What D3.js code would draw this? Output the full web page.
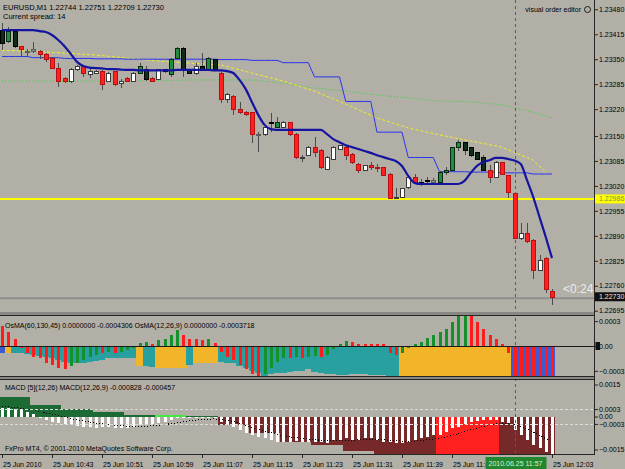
<!DOCTYPE html>
<html>
<head>
<meta charset="utf-8">
<script src="https://cdn.jsdelivr.net/npm/d3@7"></script>
<style>
body { margin:0; background:#b2afa6; }
svg { display:block; font-family:"Liberation Sans", Arial, sans-serif; }
</style>
</head>
<body>
<svg id="chart" width="625" height="469"></svg>
<script>
// EURUSD M1, 25 Jun 2010 10:35 .. 12:03 (89 bars)
// candles: open, high, low, close, colour code
var candles = [
 [1.23426,1.23444,1.23374,1.23392,'k'],[1.23395,1.23434,1.23392,1.23423,'g'],[1.23423,1.23426,1.23379,1.23382,'k'],
 [1.23382,1.23384,1.23356,1.23374,'r'],[1.23371,1.23377,1.23356,1.23371,'s'],[1.23371,1.23395,1.23366,1.23374,'s'],
 [1.23371,1.23374,1.23351,1.23361,'r'],[1.23361,1.23366,1.23343,1.23348,'r'],[1.23353,1.23356,1.23324,1.23327,'r'],
 [1.23327,1.23340,1.23278,1.23291,'r'],[1.23301,1.23304,1.23288,1.23291,'r'],[1.23291,1.23327,1.23288,1.23322,'w'],
 [1.23322,1.23335,1.23319,1.23330,'w'],[1.23330,1.23335,1.23304,1.23314,'r'],[1.23311,1.23327,1.23301,1.23317,'w'],
 [1.23314,1.23322,1.23311,1.23319,'w'],[1.23317,1.23322,1.23270,1.23283,'r'],[1.23293,1.23317,1.23291,1.23314,'w'],
 [1.23317,1.23319,1.23280,1.23283,'r'],[1.23288,1.23298,1.23275,1.23293,'w'],[1.23301,1.23304,1.23291,1.23293,'r'],
 [1.23293,1.23317,1.23291,1.23314,'w'],[1.23314,1.23340,1.23311,1.23330,'g'],[1.23322,1.23332,1.23293,1.23296,'k'],
 [1.23301,1.23304,1.23291,1.23293,'r'],[1.23298,1.23324,1.23296,1.23322,'w'],[1.23322,1.23324,1.23314,1.23317,'k'],
 [1.23309,1.23353,1.23304,1.23348,'g'],[1.23353,1.23382,1.23348,1.23379,'g'],[1.23379,1.23382,1.23304,1.23322,'k'],
 [1.23322,1.23324,1.23311,1.23314,'k'],[1.23314,1.23340,1.23309,1.23330,'w'],[1.23330,1.23366,1.23319,1.23322,'k'],
 [1.23322,1.23356,1.23319,1.23353,'g'],[1.23348,1.23351,1.23319,1.23322,'k'],[1.23314,1.23317,1.23236,1.23244,'r'],
 [1.23246,1.23262,1.23236,1.23257,'w'],[1.23252,1.23257,1.23205,1.23218,'r'],[1.23218,1.23238,1.23207,1.23210,'r'],
 [1.23212,1.23215,1.23202,1.23205,'r'],[1.23210,1.23212,1.23132,1.23153,'r'],[1.23153,1.23160,1.23108,1.23153,'s'],
 [1.23153,1.23176,1.23150,1.23173,'w'],[1.23184,1.23210,1.23160,1.23184,'k'],[1.23173,1.23199,1.23171,1.23184,'g'],
 [1.23173,1.23189,1.23171,1.23186,'w'],[1.23184,1.23186,1.23150,1.23153,'r'],[1.23155,1.23158,1.23090,1.23093,'r'],
 [1.23093,1.23100,1.23082,1.23095,'w'],[1.23100,1.23124,1.23098,1.23119,'w'],[1.23119,1.23147,1.23095,1.23108,'r'],
 [1.23113,1.23116,1.23064,1.23067,'r'],[1.23064,1.23098,1.23061,1.23095,'w'],[1.23090,1.23124,1.23087,1.23119,'w'],
 [1.23116,1.23126,1.23113,1.23124,'w'],[1.23119,1.23124,1.23087,1.23098,'r'],[1.23103,1.23106,1.23077,1.23080,'r'],
 [1.23077,1.23080,1.23054,1.23061,'r'],[1.23061,1.23074,1.23059,1.23072,'w'],[1.23072,1.23082,1.23061,1.23067,'r'],
 [1.23068,1.23077,1.23056,1.23066,'r'],[1.23067,1.23069,1.23046,1.23048,'r'],[1.23051,1.23054,1.22986,1.22988,'r'],
 [1.22990,1.23015,1.22986,1.22991,'w'],[1.22991,1.23015,1.22988,1.23012,'w'],[1.23015,1.23043,1.23012,1.23041,'w'],
 [1.23043,1.23051,1.23028,1.23030,'r'],[1.23030,1.23038,1.23020,1.23030,'k'],[1.23033,1.23043,1.23028,1.23033,'k'],
 [1.23028,1.23041,1.23025,1.23035,'s'],[1.23030,1.23059,1.23028,1.23054,'g'],[1.23054,1.23069,1.23048,1.23061,'g'],
 [1.23061,1.23121,1.23059,1.23119,'g'],[1.23119,1.23140,1.23111,1.23134,'g'],[1.23132,1.23134,1.23100,1.23113,'k'],
 [1.23119,1.23121,1.23095,1.23098,'k'],[1.23106,1.23108,1.23087,1.23090,'k'],[1.23093,1.23100,1.23059,1.23061,'k'],
 [1.23061,1.23074,1.23028,1.23041,'r'],[1.23043,1.23085,1.23041,1.23080,'w'],[1.23080,1.23082,1.23048,1.23051,'r'],
 [1.23046,1.23048,1.22988,1.23004,'r'],[1.23001,1.23004,1.22882,1.22884,'r'],[1.22884,1.22923,1.22879,1.22895,'w'],
 [1.22897,1.22923,1.22871,1.22874,'r'],[1.22879,1.22882,1.22777,1.22801,'r'],[1.22801,1.22840,1.22798,1.22827,'w'],
 [1.22832,1.22835,1.22741,1.22749,'r'],[1.22744,1.22751,1.22709,1.22730,'r']
];

// thick navy MA, one value per bar
var navyMA = [
 1.23426,1.23426,1.23426,1.23426,1.23426,1.23426,1.23423,1.23421,1.23413,1.23400,
 1.23384,1.23364,1.23343,1.23332,1.23328,1.23327,1.23326,1.23324,1.23324,1.23323,
 1.23322,1.23322,1.23321,1.23321,1.23321,1.23321,1.23321,1.23321,1.23322,1.23322,
 1.23322,1.23322,1.23322,1.23322,1.23321,1.23321,1.23319,1.23314,1.23296,1.23272,
 1.23238,1.23205,1.23179,1.23168,1.23166,1.23166,1.23166,1.23166,1.23166,1.23166,
 1.23166,1.23166,1.23155,1.23142,1.23134,1.23126,1.23121,1.23116,1.23111,1.23106,
 1.23100,1.23095,1.23090,1.23085,1.23072,1.23046,1.23028,1.23025,1.23025,1.23025,
 1.23025,1.23025,1.23025,1.23025,1.23033,1.23054,1.23072,1.23082,1.23087,1.23093,
 1.23093,1.23090,1.23086,1.23077,1.23035,1.22991,1.22939,1.22887,1.22832
];

// thin blue M5 line, one value per 5-minute block
var blueM5 = [1.23357,1.23354,1.23352,1.23351,1.23350,1.23350,1.23350,1.23349,1.23347,
              1.23341,1.23304,1.23240,1.23160,1.23094,1.23057,1.23056,1.23054,1.23051];

// yellow dashed and green dotted MAs (read at these bars)
var yellowIdx = [0,5,10,15,20,25,30,35,40,45,50,55,60,65,70,75,80,85,87];
var yellowMA  = [1.23373,1.23371,1.23366,1.23361,1.23353,1.23345,1.23340,1.23335,1.23314,1.23293,
                 1.23267,1.23233,1.23197,1.23171,1.23153,1.23137,1.23121,1.23087,1.23056];
var greenIdx  = [0,5,10,15,20,25,30,35,40,45,50,55,60,65,70,75,80,85,88];
var greenMA   = [1.23293,1.23293,1.23293,1.23293,1.23293,1.23294,1.23296,1.23296,1.23296,1.23288,
                 1.23275,1.23267,1.23257,1.23249,1.23241,1.23239,1.23231,1.23212,1.23197];

var yellowLevel = 1.22986;
var lastClose = 1.22730;
var priceTicks = [1.23480,1.23415,1.23350,1.23285,1.23220,1.23150,1.23085,1.23020,1.22955,1.22890,1.22825,1.22760,1.22695];

// OsMA(60,130,45) - wide bars, colour: t teal, o orange, b blue
var osmaSlow = [
 -0.00008,-0.00008,-0.00008,-0.00009,-0.00010,-0.00011,-0.00012,-0.00013,-0.00014,-0.00017,
 -0.00019,-0.00021,-0.00021,-0.00020,-0.00019,-0.00018,-0.00017,-0.00015,-0.00015,-0.00015,
 -0.00015,-0.00015,-0.00024,-0.00024,-0.00025,-0.00026,-0.00026,-0.00026,-0.00026,-0.00026,
 -0.00023,-0.00021,-0.00021,-0.00021,-0.00021,-0.00019,-0.00020,-0.00021,-0.00024,-0.00026,
 -0.00030,-0.00033,-0.00036,-0.00034,-0.00033,-0.00032,-0.00031,-0.00030,-0.00030,-0.00028,
 -0.00031,-0.00033,-0.00034,-0.00034,-0.00035,-0.00035,-0.00034,-0.00034,-0.00034,-0.00035,
 -0.00035,-0.00035,-0.00036,-0.00036,-0.00037,-0.00038,-0.00039,-0.00040,-0.00040,-0.00040,
 -0.00040,-0.00040,-0.00040,-0.00040,-0.00040,-0.00040,-0.00040,-0.00040,-0.00040,-0.00040,
 -0.00040,-0.00040,-0.00041,-0.00042,-0.00042,-0.00043,-0.00043,-0.00043,-0.00043
];
var osmaSlowCol = "bo" + "tttttttttttttttttttt" + "o" + "tt" + "ooooo" + "t" + "oooo" +
                  "ttttttttttttttttttttttttttttt" + "oooooooooooooooooo" + "bbbbbbb";

// OsMA(12,26,9) - thin bars, r falling, g rising
var osmaFast = [
  0.00024, 0.00017, 0.00008,-0.00002,-0.00008,-0.00013,-0.00015,-0.00020,-0.00023,-0.00026,
 -0.00028,-0.00024,-0.00020,-0.00017,-0.00013,-0.00011,-0.00008,-0.00007,-0.00008,-0.00007,
 -0.00005,-0.00002, 0.00004, 0.00005, 0.00003, 0.00007, 0.00009, 0.00013, 0.00019, 0.00013,
  0.00009, 0.00008, 0.00007, 0.00008, 0.00004,-0.00007,-0.00013,-0.00017,-0.00023,-0.00028,
 -0.00034,-0.00038,-0.00034,-0.00026,-0.00019,-0.00014,-0.00014,-0.00013,-0.00014,-0.00013,
 -0.00012,-0.00013,-0.00011,-0.00004, 0.00003, 0.00006, 0.00005, 0.00003, 0.00003, 0.00003,
  0.00003, 0.00002,-0.00008,-0.00011,-0.00009,-0.00003, 0.00002, 0.00005, 0.00010, 0.00013,
  0.00017, 0.00021, 0.00029, 0.00036, 0.00036, 0.00036, 0.00029, 0.00021, 0.00013, 0.00009,
  0.00003,-0.00008,-0.00040,-0.00040,-0.00040,-0.00040,-0.00040,-0.00040,-0.00037
];
var osmaFastCol = "rrrrrrrrrrr" + "ggggg" + "r" + "g" + "r" + "ggggg" + "r" + "gggg" + "rrrr" + "g" +
                  "rrrrrrrr" + "gggg" + "r" + "g" + "r" + "gg" + "r" + "gggg" + "rrrrrrrr" +
                  "ggggggggggg" + "rrrrrrrrrrrrrr";
var osmaTicks = [0.0003, 0, -0.0003];

// MACD [5](12,26): one value per 5-minute block; g dark green, l lime, m maroon, r red
var macdM5 = [0.00079,0.00047,0.00030,0.00018,0.00008,0.00006,0.00004,-0.00034,-0.00067,
              -0.00102,-0.00117,-0.00140,-0.00160,-0.00160,-0.00160,-0.00160,-0.00160,-0.00160];
var macdM5Col = "ggggglgmmmmmmmrrmm";

// MACD(12,26,9) main (white bars) and signal (dotted)
var macdMain = [
  0.00035, 0.00033, 0.00030, 0.00025, 0.00018, 0.00010,-0.00007,-0.00014,-0.00021,-0.00026,
 -0.00030,-0.00034,-0.00037,-0.00041,-0.00044,-0.00045,-0.00041,-0.00041,-0.00045,-0.00048,
 -0.00045,-0.00041,-0.00034,-0.00032,-0.00032,-0.00028,-0.00021,-0.00014,-0.00007,-0.00007,
 -0.00007,-0.00007,-0.00006,-0.00006,-0.00007,-0.00021,-0.00034,-0.00041,-0.00055,-0.00068,
 -0.00075,-0.00082,-0.00088,-0.00095,-0.00102,-0.00102,-0.00102,-0.00099,-0.00102,-0.00102,
 -0.00104,-0.00102,-0.00109,-0.00095,-0.00095,-0.00088,-0.00095,-0.00095,-0.00088,-0.00088,
 -0.00095,-0.00102,-0.00102,-0.00109,-0.00109,-0.00102,-0.00095,-0.00088,-0.00082,-0.00075,
 -0.00075,-0.00062,-0.00048,-0.00041,-0.00032,-0.00021,-0.00018,-0.00014,-0.00014,-0.00014,
 -0.00021,-0.00028,-0.00055,-0.00075,-0.00095,-0.00115,-0.00129,-0.00143,-0.00156
];
var macdSignal = [
  0.00040, 0.00039, 0.00037, 0.00034, 0.00030, 0.00026, 0.00020, 0.00014, 0.00009, 0.00004,
 -0.00002,-0.00008,-0.00013,-0.00018,-0.00023,-0.00027,-0.00030,-0.00032,-0.00035,-0.00037,
 -0.00039,-0.00040,-0.00040,-0.00039,-0.00038,-0.00036,-0.00033,-0.00029,-0.00025,-0.00021,
 -0.00018,-0.00015,-0.00013,-0.00011,-0.00010,-0.00012,-0.00016,-0.00021,-0.00028,-0.00036,
 -0.00044,-0.00052,-0.00059,-0.00066,-0.00073,-0.00079,-0.00083,-0.00086,-0.00089,-0.00092,
 -0.00094,-0.00096,-0.00098,-0.00098,-0.00097,-0.00096,-0.00096,-0.00095,-0.00094,-0.00093,
 -0.00093,-0.00095,-0.00096,-0.00098,-0.00100,-0.00100,-0.00100,-0.00098,-0.00095,-0.00091,
 -0.00088,-0.00083,-0.00076,-0.00069,-0.00062,-0.00054,-0.00047,-0.00040,-0.00035,-0.00030,
 -0.00028,-0.00028,-0.00033,-0.00040,-0.00051,-0.00063,-0.00076,-0.00090,-0.00103
];
var macdTicks = [0.0015, 0.0003, 0, -0.0003, -0.0015];

var timeIdx = [0,8,16,24,32,40,48,56,64,72,88];
var timeLabels = ["25 Jun 2010","25 Jun 10:43","25 Jun 10:51","25 Jun 10:59","25 Jun 11:07","25 Jun 11:15",
                  "25 Jun 11:23","25 Jun 11:31","25 Jun 11:39","25 Jun 11:47","25 Jun 12:03"];
var crossIdx = 82;
var crossLabel = "2010.06.25 11:57";

//////////////////////////
var bg = "#b2afa6";
var plotR = 594;
var svg = d3.select("#chart");
svg.append("rect").attr("width",625).attr("height",469).attr("fill",bg);

var x = d3.scaleLinear().domain([0,88]).range([2,552]);
var y = d3.scaleLinear().domain([1.22695,1.23480]).range([310.7,9.3]);
var yOsma = d3.scaleLinear().domain([-0.000368,0.000368]).range([376.5,315.5]);
var yMacd = d3.scaleLinear().domain([-0.0015,0.0015]).range([453.5,379.5]);

var defs = svg.append("defs");
function clip(id, x0, y0, w, h){
  defs.append("clipPath").attr("id",id).append("rect")
    .attr("x",x0).attr("y",y0).attr("width",w).attr("height",h);
}
clip("clipMain",0,0,plotR,312);
clip("clipOsma",0,316,plotR,60);
clip("clipMacd",0,380,plotR,74);

function px(i){ return Math.round(x(i)) + 0.5; }

////////////////////////
// main panel
var gMain = svg.append("g").attr("clip-path","url(#clipMain)");

// horizontal levels
gMain.append("line").attr("x1",0).attr("x2",plotR)
    .attr("y1",y(yellowLevel)).attr("y2",y(yellowLevel))
    .attr("stroke","#ffff00").attr("stroke-width",2);
gMain.append("line").attr("x1",0).attr("x2",plotR)
    .attr("y1",y(lastClose)+1).attr("y2",y(lastClose)+1)
    .attr("stroke","#8e8e8e").attr("stroke-width",2);

// dashed MAs
gMain.append("path")
    .datum(greenMA)
    .attr("fill","none").attr("stroke","#34d834").attr("stroke-width",1)
    .attr("stroke-dasharray","1,2")
    .attr("d", d3.line().x(function(d,i){ return x(greenIdx[i]); }).y(function(d){ return y(d); }));
gMain.append("path")
    .datum(yellowMA)
    .attr("fill","none").attr("stroke","#f0f020").attr("stroke-width",1)
    .attr("stroke-dasharray","3,2")
    .attr("d", d3.line().x(function(d,i){ return x(yellowIdx[i]); }).y(function(d){ return y(d); }));

// thin blue M5 line drawn on every bar
gMain.append("path")
    .datum(candles.map(function(d,i){ return blueM5[Math.floor(i/5)]; }))
    .attr("fill","none").attr("stroke","#2a34f0").attr("stroke-width",1)
    .attr("d", d3.line().x(function(d,i){ return x(i); }).y(function(d){ return y(d); }));

// candles
var bodyFill = {r:"#ff2020", w:"#ffffff", g:"#1f8f3e", k:"#0f2c18", s:"#8e8e8e"};
var bodyLine = {r:"#b81010", w:"#3a3a3a", g:"#0a2812", k:"#000000", s:"#5c5c5c"};

var candle = gMain.selectAll(".candle")
    .data(candles)
  .enter().append("g")
    .attr("class","candle")
    .attr("shape-rendering","crispEdges");

candle.append("line")
    .attr("x1", function(d,i){ return px(i); })
    .attr("x2", function(d,i){ return px(i); })
    .attr("y1", function(d){ return y(d[1]); })
    .attr("y2", function(d){ return y(d[2]); })
    .attr("stroke", "#4c4c4c");

candle.append("rect")
    .attr("x", function(d,i){ return px(i) - 2; })
    .attr("y", function(d){ return y(Math.max(d[0],d[3])); })
    .attr("width", 4)
    .attr("height", function(d){ return Math.max(1, y(Math.min(d[0],d[3])) - y(Math.max(d[0],d[3]))); })
    .attr("fill", function(d){ return bodyFill[d[4]]; })
    .attr("stroke", function(d){ return bodyLine[d[4]]; })
    .attr("stroke-width", 1);

// navy MA
gMain.append("path")
    .datum(navyMA)
    .attr("fill","none").attr("stroke","#1414a0").attr("stroke-width",2.2)
    .attr("d", d3.line().curve(d3.curveMonotoneX).x(function(d,i){ return x(i); }).y(function(d){ return y(d); }));

// countdown text
gMain.append("text").attr("x",563).attr("y",293)
    .attr("font-size","12px").attr("fill","#ececec").text("<0:24");

// header
svg.append("text").attr("x",3).attr("y",10).attr("font-size","7.5px").attr("fill","#000")
    .text("EURUSD,M1  1.22744 1.22751 1.22709 1.22730");
svg.append("text").attr("x",3).attr("y",19).attr("font-size","7.5px").attr("fill","#000")
    .text("Current spread: 14");
svg.append("text").attr("x",581).attr("y",12).attr("text-anchor","end")
    .attr("font-size","7px").attr("fill","#000").text("visual order editor");
svg.append("circle").attr("cx",587.5).attr("cy",9.5).attr("r",3)
    .attr("fill","none").attr("stroke","#000").attr("stroke-width",0.8);

////////////////////////
// OsMA panel
var gOsma = svg.append("g").attr("clip-path","url(#clipOsma)").attr("shape-rendering","crispEdges");
var slowFill = {t:"#28a0a0", o:"#f2b428", b:"#3c5ad2"};
gOsma.selectAll(".slow")
    .data(osmaSlow)
  .enter().append("rect")
    .attr("class","slow")
    .attr("x", function(d,i){ return x(i) - 3.2; })
    .attr("width", 6.5)
    .attr("y", yOsma(0))
    .attr("height", function(d){ return yOsma(d) - yOsma(0); })
    .attr("fill", function(d,i){ return slowFill[osmaSlowCol[i]]; });

gOsma.selectAll(".fast")
    .data(osmaFast)
  .enter().append("rect")
    .attr("class","fast")
    .attr("x", function(d,i){ return Math.round(x(i)) - 1; })
    .attr("width", 3)
    .attr("y", function(d){ return yOsma(Math.max(0,d)); })
    .attr("height", function(d){ return Math.abs(yOsma(d) - yOsma(0)); })
    .attr("fill", function(d,i){ return osmaFastCol[i] == "g" ? "#16902a" : "#ff1c1c"; });

gOsma.append("line").attr("x1",0).attr("x2",plotR)
    .attr("y1",Math.round(yOsma(0))+0.5).attr("y2",Math.round(yOsma(0))+0.5)
    .attr("stroke","#1a1a1a");

svg.append("text").attr("x",5).attr("y",328).attr("font-size","7px").attr("fill","#000")
    .text("OsMA(60,130,45) 0.0000000 -0.0004306   OsMA(12,26,9) 0.0000000 -0.0003718");

////////////////////////
// MACD panel
var gMacd = svg.append("g").attr("clip-path","url(#clipMacd)").attr("shape-rendering","crispEdges");
var m5Fill = {g:"#1c6b34", l:"#44e844", m:"#772828", r:"#ff2020"};
gMacd.selectAll(".m5")
    .data(macdM5)
  .enter().append("rect")
    .attr("class","m5")
    .attr("x", function(d,k){ return x(k*5) - 3.125; })
    .attr("width", function(d,k){ return x(Math.min(k*5+4,88)) - x(k*5) + 6.25; })
    .attr("y", function(d){ return yMacd(Math.max(0,d)); })
    .attr("height", function(d,k){ return Math.max(macdM5Col[k]=="l" ? 2 : 1, Math.abs(yMacd(d) - yMacd(0))); })
    .attr("fill", function(d,k){ return m5Fill[macdM5Col[k]]; });

// level lines
[0.0003,-0.0003].forEach(function(v){
  svg.append("line").attr("x1",0).attr("x2",plotR)
    .attr("y1",Math.round(yMacd(v))+0.5).attr("y2",Math.round(yMacd(v))+0.5)
    .attr("stroke","#dcdcdc").attr("stroke-dasharray","3,2");
});

gMacd.selectAll(".main")
    .data(macdMain)
  .enter().append("rect")
    .attr("class","main")
    .attr("x", function(d,i){ return Math.round(x(i)) - 1; })
    .attr("width", 3)
    .attr("y", function(d){ return yMacd(Math.max(0,d)); })
    .attr("height", function(d){ return Math.abs(yMacd(d) - yMacd(0)); })
    .attr("fill", "#ffffff");

gMacd.append("path")
    .datum(macdSignal)
    .attr("fill","none").attr("stroke","#000").attr("stroke-width",1)
    .attr("stroke-dasharray","1,2")
    .attr("d", d3.line().x(function(d,i){ return x(i); }).y(function(d){ return yMacd(d); }));

svg.append("text").attr("x",5).attr("y",389.5).attr("font-size","7px").attr("fill","#000")
    .text("MACD [5](12,26)   MACD(12,26,9) -0.000828 -0.000457");
svg.append("text").attr("x",5).attr("y",450.5).attr("font-size","7px").attr("fill","#000")
    .text("FxPro MT4, \u00a9 2001-2010 MetaQuotes Software Corp.");

////////////////////////
// crosshair
svg.append("line").attr("x1",px(crossIdx)).attr("x2",px(crossIdx))
    .attr("y1",0).attr("y2",455)
    .attr("stroke","#3f6e4a").attr("stroke-dasharray","3,3");

////////////////////////
// frames / separators
svg.append("rect").attr("x",0).attr("y",312).attr("width",plotR).attr("height",3).attr("fill","#8a8884");
svg.append("rect").attr("x",0).attr("y",377).attr("width",plotR).attr("height",2).attr("fill","#8a8884");
[315.5,376.5,379.5,454.5].forEach(function(v){
  svg.append("line").attr("x1",0).attr("x2",plotR+1).attr("y1",v).attr("y2",v).attr("stroke","#262626");
});
svg.append("line").attr("x1",plotR+0.5).attr("x2",plotR+0.5).attr("y1",0).attr("y2",455).attr("stroke","#262626");

////////////////////////
// axes
var fmt5 = d3.format(".5f");
var axP = svg.append("g").attr("transform","translate(" + (plotR+1) + ",0)")
    .call(d3.axisRight(y).tickValues(priceTicks).tickFormat(fmt5).tickSize(3).tickPadding(1));
var axO = svg.append("g").attr("transform","translate(" + (plotR+1) + ",0)")
    .call(d3.axisRight(yOsma).tickValues(osmaTicks).tickFormat(function(d){ return d==0 ? "0.00" : d3.format(".4f")(d); }).tickSize(3).tickPadding(1));
var axM = svg.append("g").attr("transform","translate(" + (plotR+1) + ",0)")
    .call(d3.axisRight(yMacd).tickValues(macdTicks).tickFormat(function(d){ return d==0 ? "0.00" : d3.format(".4f")(d); }).tickSize(3).tickPadding(1));
axM.selectAll(".tick").filter(function(d){ return Math.abs(d) > 0.001; })
    .attr("transform", function(d){ return "translate(0," + (d > 0 ? 385 : 450) + ")"; });
[axP, axO, axM].forEach(function(a){
  a.select(".domain").remove();
  a.selectAll("text").attr("font-size","7px").attr("fill","#000").attr("font-family","Liberation Sans, Arial, sans-serif");
  a.selectAll("line").attr("stroke","#262626");
});

// price labels
svg.append("rect").attr("x",595).attr("y",y(yellowLevel)-4.5).attr("width",30).attr("height",9).attr("fill","#ffff00");
svg.append("text").attr("x",599).attr("y",y(yellowLevel)+2.5).attr("font-size","7px").attr("fill","#8a8a60").text(fmt5(yellowLevel));
svg.append("rect").attr("x",595).attr("y",y(lastClose)-5).attr("width",30).attr("height",9).attr("fill","#101010");
svg.append("text").attr("x",599).attr("y",y(lastClose)+2).attr("font-size","7px").attr("fill","#e8e8e8").text(fmt5(lastClose));
svg.append("rect").attr("x",595.5).attr("y",yOsma(0)-4).attr("width",4.5).attr("height",8).attr("fill","#101010");

// time axis (the crosshair label covers the tail of the 11:47 label)
clip("clipTime",0,455,px(crossIdx)-30,14);
var axT = svg.append("g").attr("transform","translate(0,455)");
axT.selectAll("line").data(timeIdx).enter().append("line")
    .attr("x1", function(d){ return px(d); }).attr("x2", function(d){ return px(d); })
    .attr("y1",0).attr("y2",3).attr("stroke","#262626");
axT.selectAll("text").data(timeIdx).enter().append("text")
    .attr("x", function(d){ return x(d) + 1; }).attr("y",11.5)
    .attr("font-size","7px").attr("fill","#000")
    .attr("clip-path", function(d){ return d < crossIdx && d > crossIdx - 14 ? "url(#clipTimeLocal)" : null; })
    .text(function(d,i){ return timeLabels[i]; });
defs.append("clipPath").attr("id","clipTimeLocal").append("rect")
    .attr("x",0).attr("y",0).attr("width",px(crossIdx)-30).attr("height",14);
axT.append("rect").attr("x",px(crossIdx)-30).attr("y",2).attr("width",61).attr("height",12).attr("fill","#22862e");
axT.append("text").attr("x",px(crossIdx)).attr("y",11).attr("text-anchor","middle")
    .attr("font-size","7px").attr("fill","#d8f0d0").text(crossLabel);
</script>
</body>
</html>
